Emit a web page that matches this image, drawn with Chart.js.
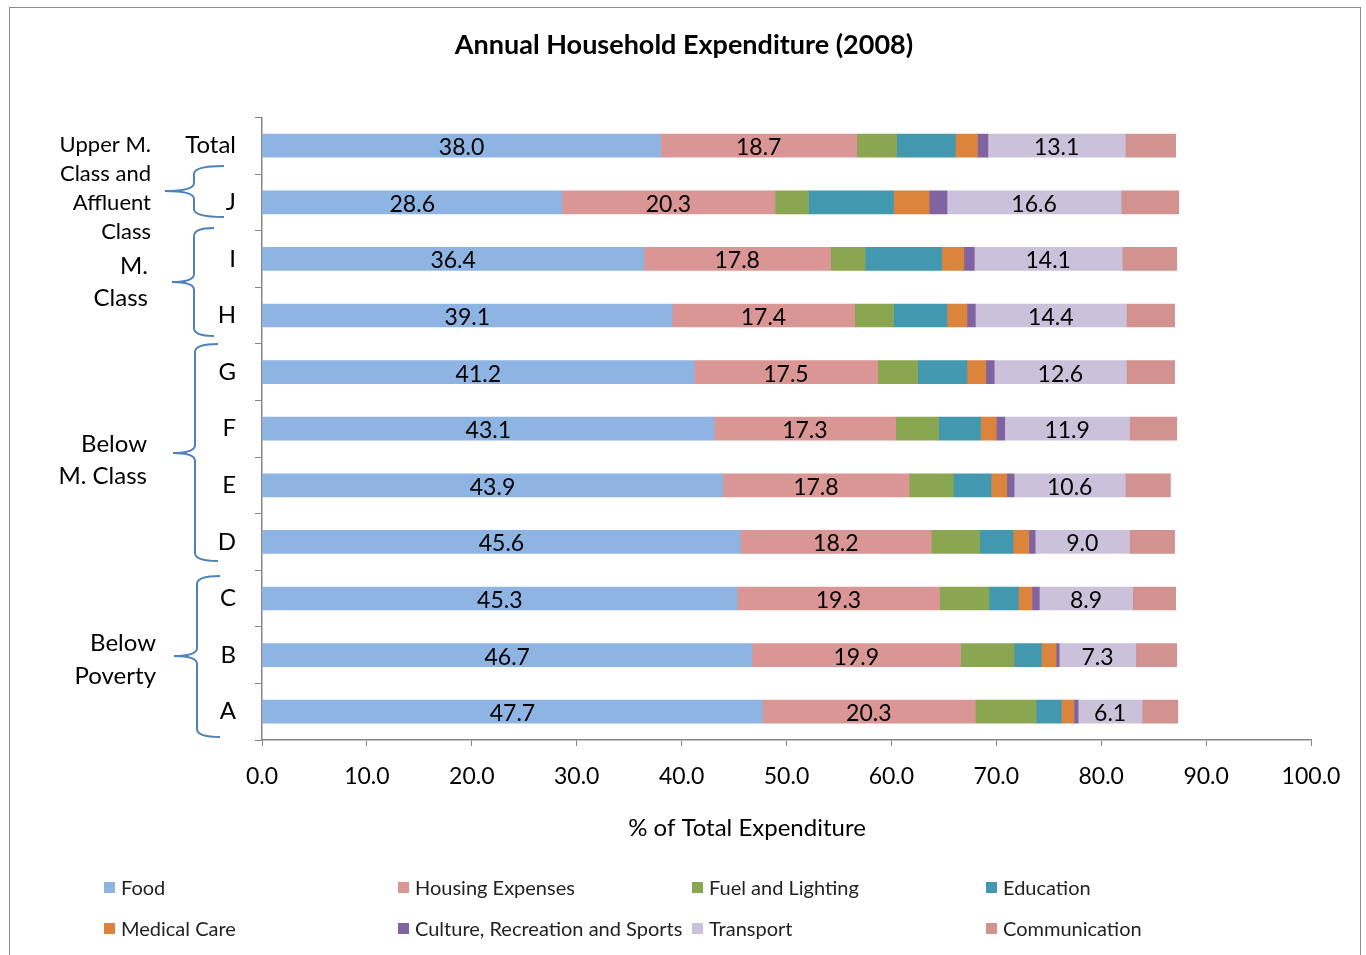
<!DOCTYPE html>
<html lang="en">
<head>
<meta charset="UTF-8">
<title>Annual Household Expenditure (2008)</title>
<script src="https://cdn.jsdelivr.net/npm/chart.js"></script>
<style>
  body { margin: 0; background: #fff; font-family: Lato, sans-serif; }
  #wrap { position: relative; width: 1366px; height: 955px; overflow: hidden; }
  #frame { position: absolute; left: 9px; top: 7px; width: 1350px; height: 980px; border: 1px solid #8c8c8c; }
  #legend { position: absolute; left: 104px; top: 876px; display: grid;
            grid-template-columns: 294px 294px 294px 294px; row-gap: 19px; font-size: 20px; color: #222; }
  .item { display: flex; align-items: center; height: 22px; white-space: nowrap; }
  .box { width: 11px; height: 11px; margin-right: 6px; }
</style>
</head>
<body>
<div id="wrap">
  <div id="frame"></div>
  <canvas id="chart"></canvas>
  <div id="legend"></div>
</div>

<script>
// rows, top to bottom
const groups = ["Total", "J", "I", "H", "G", "F", "E", "D", "C", "B", "A"];

const food      = [38.0, 28.6, 36.4, 39.1, 41.2, 43.1, 43.9, 45.6, 45.3, 46.7, 47.7];
const housing   = [18.7, 20.3, 17.8, 17.4, 17.5, 17.3, 17.8, 18.2, 19.3, 19.9, 20.3];
const fuel      = [3.8, 3.2, 3.3, 3.7, 3.8, 4.1, 4.2, 4.6, 4.7, 5.1, 5.8];
const education = [5.6, 8.1, 7.3, 5.1, 4.7, 4.0, 3.6, 3.2, 2.8, 2.6, 2.4];
const medical   = [2.1, 3.4, 2.1, 1.9, 1.8, 1.5, 1.5, 1.5, 1.3, 1.4, 1.2];
const culture   = [1.0, 1.7, 1.0, 0.8, 0.8, 0.8, 0.7, 0.6, 0.7, 0.3, 0.4];
const transport = [13.1, 16.6, 14.1, 14.4, 12.6, 11.9, 10.6, 9.0, 8.9, 7.3, 6.1];
const communication = [4.8, 5.5, 5.2, 4.6, 4.6, 4.5, 4.3, 4.3, 4.1, 3.9, 3.4];

const seriesNames = ["Food", "Housing Expenses", "Fuel and Lighting", "Education",
  "Medical Care", "Culture, Recreation and Sports", "Transport", "Communication"];
const seriesData = [food, housing, fuel, education, medical, culture, transport, communication];
const colors = ["#8EB4E3", "#DA9694", "#8BA650", "#4198AF", "#DD843C", "#8064A2", "#CCC1DA", "#D29290"];
const labelled = [0, 1, 6];

const xTicks = [0, 10, 20, 30, 40, 50, 60, 70, 80, 90, 100];
const xTitle = "% of Total Expenditure";

// bracket captions on the left
const bracketLabels = [
  { lines: ["Upper M.", "Class and", "Affluent", "Class"], x: 151, y: [145, 174, 203, 232], size: 22 },
  { lines: ["M.", "Class"], x: 148, y: [266, 298], size: 24 },
  { lines: ["Below", "M. Class"], x: 147, y: [444, 476], size: 24 },
  { lines: ["Below", "Poverty"], x: 156, y: [643, 676], size: 24 }
];
const braces = [
  { xv: 194, xe: 224, top: 166, bottom: 217, tipX: 165, tipY: 191 },
  { xv: 194, xe: 214, top: 228, bottom: 336, tipX: 172, tipY: 282 },
  { xv: 195, xe: 218, top: 344, bottom: 561, tipX: 173, tipY: 453 },
  { xv: 197, xe: 220, top: 576, bottom: 737, tipX: 174, tipY: 656 }
];

const legend = document.getElementById("legend");
seriesNames.forEach((n, i) => {
  legend.innerHTML += `<div class="item"><span class="box" style="background:${colors[i]}"></span>${n}</div>`;
});

const segmentLabels = {
  id: "segmentLabels",
  afterDatasetsDraw(chart) {
    const ctx = chart.ctx;
    ctx.save();
    ctx.font = "23px Lato";
    ctx.fillStyle = "#000";
    ctx.textAlign = "center";
    ctx.textBaseline = "middle";
    labelled.forEach(d => {
      chart.getDatasetMeta(d).data.forEach((bar, i) => {
        const p = bar.getProps(["x", "y", "base"], true);
        ctx.fillText(seriesData[d][i].toFixed(1), (p.x + p.base) / 2, p.y + 2);
      });
    });
    ctx.restore();
  }
};

const brackets = {
  id: "brackets",
  afterDraw(chart) {
    const ctx = chart.ctx;
    ctx.save();
    ctx.strokeStyle = "#4F81BD";
    ctx.lineWidth = 2;
    braces.forEach(b => {
      const r = 8;
      ctx.beginPath();
      ctx.moveTo(b.xe, b.top);
      ctx.quadraticCurveTo(b.xv, b.top, b.xv, b.top + r);
      ctx.lineTo(b.xv, b.tipY - r);
      ctx.quadraticCurveTo(b.xv, b.tipY, b.tipX, b.tipY);
      ctx.quadraticCurveTo(b.xv, b.tipY, b.xv, b.tipY + r);
      ctx.lineTo(b.xv, b.bottom - r);
      ctx.quadraticCurveTo(b.xv, b.bottom, b.xe, b.bottom);
      ctx.stroke();
    });
    ctx.fillStyle = "#000";
    ctx.textAlign = "right";
    ctx.textBaseline = "middle";
    bracketLabels.forEach(g => {
      ctx.font = g.size + "px Lato";
      g.lines.forEach((t, i) => ctx.fillText(t, g.x, g.y[i]));
    });
    // axis title, sits left of the plot centre as in the original
    ctx.textAlign = "center";
    ctx.font = "24px Lato";
    ctx.fillText(xTitle, 747, 828);
    ctx.restore();
  }
};

new Chart(document.getElementById("chart"), {
  type: "bar",
  data: {
    labels: groups,
    datasets: seriesNames.map((n, i) => ({
      label: n,
      data: seriesData[i],
      backgroundColor: colors[i],
      borderWidth: 0,
      barThickness: 23
    }))
  },
  options: {
    indexAxis: "y",
    responsive: true,
    maintainAspectRatio: false,
    animation: false,
    layout: { padding: { left: 57, right: 55, top: 0, bottom: 110 } },
    plugins: {
      legend: { display: false },
      tooltip: { enabled: false },
      title: {
        display: true,
        text: "Annual Household Expenditure (2008)",
        color: "#000",
        font: { family: "Lato", size: 27, weight: "bold" },
        padding: { top: 29, bottom: 56 }
      }
    },
    scales: {
      x: {
        stacked: true,
        min: 0,
        max: 100,
        afterBuildTicks: s => { s.ticks = xTicks.map(v => ({ value: v })); },
        afterFit: s => { s.height = 105; },
        ticks: {
          color: "#000",
          font: { family: "Lato", size: 23 },
          padding: 17,
          maxRotation: 0,
          callback: v => Number(v).toFixed(1)
        },
        grid: { drawOnChartArea: false, tickLength: 6, color: "#868686" },
        border: { color: "#868686", width: 1.5 }
      },
      y: {
        stacked: true,
        afterFit: s => { s.width = 205; },
        ticks: { color: "#000", font: { family: "Lato", size: 24 }, padding: 19 },
        grid: { drawOnChartArea: false, offset: true, tickLength: 7, color: "#868686" },
        border: { color: "#868686", width: 1.5 }
      }
    }
  },
  plugins: [segmentLabels, brackets]
});
</script>
</body>
</html>
